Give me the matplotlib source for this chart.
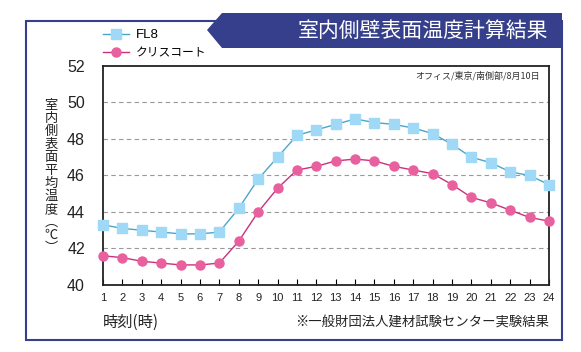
import matplotlib.pyplot as plt
from matplotlib.patches import Polygon, Rectangle

plt.rcParams['font.family'] = ['Noto Sans CJK JP', 'DejaVu Sans']
num_font = ['Liberation Sans', 'DejaVu Sans']

hours = list(range(1, 25))
fl8 = [43.3, 43.1, 43.0, 42.9, 42.8, 42.8, 42.9, 44.2, 45.8, 47.0, 48.2, 48.5,
       48.8, 49.1, 48.9, 48.8, 48.6, 48.3, 47.7, 47.0, 46.7, 46.2, 46.0, 45.5]
criscoat = [41.6, 41.5, 41.3, 41.2, 41.1, 41.1, 41.2, 42.4, 44.0, 45.3, 46.3, 46.5,
            46.8, 46.9, 46.8, 46.5, 46.3, 46.1, 45.5, 44.8, 44.5, 44.1, 43.7, 43.5]
y_ticks = [40, 42, 44, 46, 48, 50, 52]

W, H = 581, 352
navy = '#353f8b'


def fx(px):
    return px / W


def fy(py):
    return 1 - py / H


fig = plt.figure(figsize=(W / 100, H / 100), dpi=100)

# outer frame
fig.patches.append(Rectangle((fx(26), fy(340)), fx(562) - fx(26), fy(21) - fy(340),
                             transform=fig.transFigure, fill=False,
                             edgecolor=navy, linewidth=1.5, zorder=0))
# title banner
banner = [(207, 30), (222, 13), (562, 13), (562, 48), (222, 48)]
fig.patches.append(Polygon([(fx(x), fy(y)) for x, y in banner], closed=True,
                           transform=fig.transFigure, facecolor=navy,
                           edgecolor='none', zorder=1))
fig.text(fx(423), fy(31), '室内側壁表面温度計算結果', color='white', fontsize=15,
         ha='center', va='center')

ax = fig.add_axes([fx(103), fy(285), fx(549) - fx(103), fy(66) - fy(285)])
ax.plot(hours, fl8, color='#4aa6c9', linewidth=1, marker='s', markersize=7.5,
        markerfacecolor='#9fd9f6', markeredgecolor='#9fd9f6', clip_on=False,
        zorder=3, label='FL8')
ax.plot(hours, criscoat, color='#c9307d', linewidth=1, marker='o', markersize=6.5,
        markerfacecolor='#e8609e', markeredgecolor='#e8609e', clip_on=False,
        zorder=3, label='クリスコート')

ax.set_xlim(1, 24)
ax.set_ylim(40, 52)
ax.set_yticks(y_ticks)
ax.set_xticks(hours)
ax.tick_params(axis='y', length=0, labelsize=11.5, pad=13, labelcolor='#222222')
ax.tick_params(axis='x', direction='in', length=4, labelsize=8, pad=6,
               labelcolor='#222222')
for lbl in ax.get_xticklabels() + ax.get_yticklabels():
    lbl.set_family(num_font)
for yv in y_ticks[1:-1]:
    ax.axhline(yv, color='#999999', linewidth=0.8, linestyle=(0, (4, 3)), zorder=1)
for s in ax.spines.values():
    s.set_linewidth(1.3)
    s.set_color('#222222')

ax.text(0.98, 0.955, 'オフィス/東京/南側部/8月10日', transform=ax.transAxes,
        fontsize=6.5, ha='right', va='center', color='#333333')

leg = ax.legend(loc='lower left', bbox_to_anchor=(fx(97), fy(65)),
                bbox_transform=fig.transFigure, frameon=False, fontsize=8.5,
                handlelength=2.2, labelspacing=0.45, borderpad=0, handletextpad=0.6)
leg.get_texts()[0].set_family(num_font)
leg.get_texts()[0].set_fontsize(9.5)

ylabel = '\n'.join(list('室内側表面平均温度') + ['︵', '℃', '︶'])
fig.text(fx(51), fy(177), ylabel, fontsize=9.5, ha='center', va='center',
         linespacing=1.0, color='#222222')
fig.text(fx(103), fy(322), '時刻(時)', fontsize=11, ha='left', va='center',
         color='#222222')
fig.text(fx(549), fy(322), '※一般財団法人建材試験センター実験結果', fontsize=9.6,
         ha='right', va='center', color='#222222')

fig.savefig('out.png', dpi=100)
